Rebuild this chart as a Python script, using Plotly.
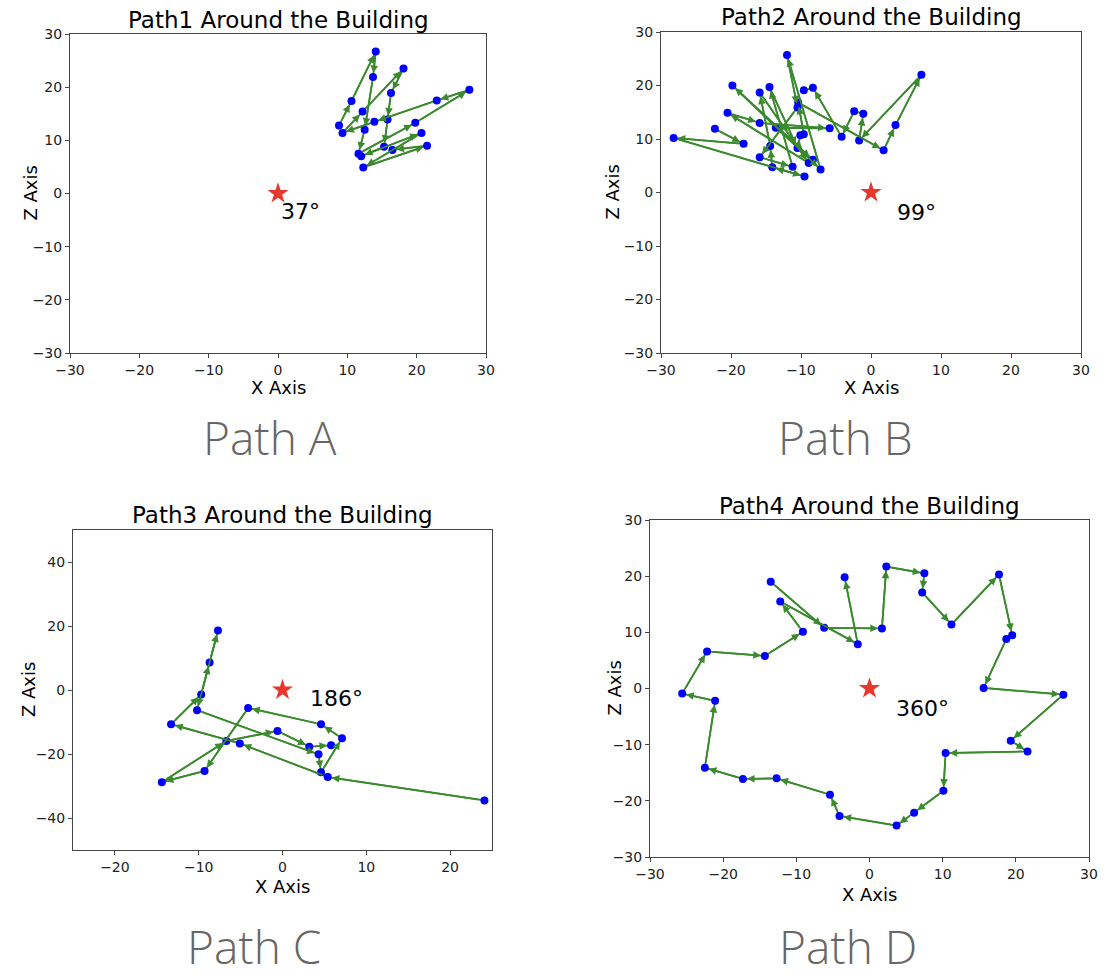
import plotly.graph_objects as go

# ---- walking paths around the building (x, z in metres) ----
path1_x = [8.8, 10.6, 14.1, 13.7, 12.5, 11.6, 19.8, 27.6, 22.9, 13.9, 9.3,
           12.2, 18.1, 16.3, 15.8, 15.3, 12.0, 20.7, 12.3, 21.5, 16.5]
path1_z = [12.8, 17.4, 26.7, 21.9, 12.0, 7.5, 13.3, 19.5, 17.5, 13.5, 11.4,
           15.4, 23.5, 18.9, 13.9, 8.8, 7.0, 11.4, 4.9, 9.0, 8.2]

path2_x = [-22.3, -18.2, -28.2, -9.5, -14.1, -14.4, -15.9, -8.9, -20.5, -15.9,
           -5.9, -13.6, -8.3, -19.8, -7.2, -12.0, -10.5, -15.9, -11.2, -14.5,
           -10.5, -10.1, -9.6, -10.4, 1.8, 3.5, 7.2, -1.7, -1.1, -2.4, -4.2,
           -8.3, -9.6]
path2_z = [11.9, 9.1, 10.2, 3.0, 4.7, 8.7, 18.7, 5.5, 14.9, 13.0,
           12.0, 12.1, 6.1, 20.0, 4.3, 25.7, 15.9, 6.6, 4.8, 19.7,
           8.3, 10.7, 10.9, 16.8, 7.9, 12.6, 22.0, 9.7, 14.7, 15.2, 10.4,
           19.6, 19.1]

path3_x = [24.1, 5.4, -5.1, -13.3, -9.7, -8.7, -7.7, -10.2, 4.3, 4.6, 7.1,
           4.6, -4.1, -9.3, -14.4, -6.7, -0.6, 3.2, 5.8]
path3_z = [-34.5, -27.2, -16.7, -10.7, -1.4, 8.6, 18.6, -6.3, -20.1, -25.7,
           -15.1, -10.7, -5.6, -25.3, -28.8, -15.9, -12.8, -17.7, -17.3]

path4_x = [-13.5, -6.2, 1.7, 2.3, 7.5, 7.2, 11.2, 17.7, 19.5, 18.7, 15.6, 26.5,
           19.3, 21.6, 10.4, 10.1, 6.1, 3.7, -4.1, -5.4, -12.7, -17.3, -22.5,
           -21.1, -25.6, -22.2, -14.3, -9.1, -12.2, -1.6, -3.4]
path4_z = [19.0, 10.8, 10.7, 21.7, 20.5, 17.1, 11.4, 20.3, 9.5, 8.8, 0.1, -1.1,
           -9.3, -11.2, -11.5, -18.2, -22.1, -24.4, -22.7, -18.9, -16.0, -16.1,
           -14.1, -2.2, -0.9, 6.6, 5.8, 10.1, 15.5, 7.9, 19.8]

building_x = [0]
building_z = [0]

panel_titles = ["Path1 Around the Building", "Path2 Around the Building",
                "Path3 Around the Building", "Path4 Around the Building"]
angle_labels = ["37°", "99°", "186°", "360°"]
angle_pos_x = [0.1, 3.4, 3.0, 3.3]
angle_pos_z = [-3.4, -3.8, -2.8, -3.6]
path_names = ["Path A", "Path B", "Path C", "Path D"]

paths = [(path1_x, path1_z), (path2_x, path2_z), (path3_x, path3_z), (path4_x, path4_z)]

GREEN = "#3b8a2e"
BLUE = "#0000ff"
RED = "#e8372c"
FONT = "DejaVu Sans"
W, H = 1109, 976

# plot-area boxes in pixels: (left, top, right, bottom)
boxes = [(70, 34, 486, 353), (661, 32, 1081, 353),
         (73, 530, 492, 850), (650, 520, 1089, 857)]
x_ranges = [[-30, 30], [-30, 30], [-25, 25], [-30, 30]]
z_ranges = [[-30, 30], [-30, 30], [-50, 50], [-30, 30]]
x_ticks = [[-30, -20, -10, 0, 10, 20, 30], [-30, -20, -10, 0, 10, 20, 30],
           [-20, -10, 0, 10, 20], [-30, -20, -10, 0, 10, 20, 30]]
z_ticks = [[-30, -20, -10, 0, 10, 20, 30], [-30, -20, -10, 0, 10, 20, 30],
           [-40, -20, 0, 20, 40], [-30, -20, -10, 0, 10, 20, 30]]

# label placement in pixels
title_y = [20, 17, 515, 506]
xlabel_y = [387, 388, 886, 894]
zlabel_x = [30, 612, 28, 614]
name_pos = [(270, 437), (845, 437), (254, 946), (848, 946)]

fig = go.Figure()
annotations = []

for i, ((px, pz), box) in enumerate(zip(paths, boxes)):
    n = "" if i == 0 else str(i + 1)
    xa, ya = "x" + n, "y" + n
    l, t, r, b = box

    fig.add_trace(go.Scatter(x=px, y=pz, mode="lines", xaxis=xa, yaxis=ya,
                             line=dict(color=GREEN, width=1.8), hoverinfo="skip",
                             showlegend=False))
    fig.add_trace(go.Scatter(x=px, y=pz, mode="markers", xaxis=xa, yaxis=ya,
                             marker=dict(color=BLUE, size=8), showlegend=False))
    fig.add_trace(go.Scatter(x=building_x, y=building_z, mode="markers",
                             xaxis=xa, yaxis=ya,
                             marker=dict(color=RED, size=16, symbol="star"),
                             showlegend=False))

    # direction arrows between consecutive positions
    for k in range(len(px) - 1):
        annotations.append(dict(
            x=px[k + 1], y=pz[k + 1], ax=px[k], ay=pz[k],
            xref=xa, yref=ya, axref=xa, ayref=ya,
            text="", showarrow=True, arrowhead=2, arrowsize=0.9,
            arrowwidth=1.7, arrowcolor=GREEN, standoff=4, startstandoff=4))

    annotations.append(dict(x=angle_pos_x[i], y=angle_pos_z[i], xref=xa, yref=ya,
                            text=angle_labels[i], showarrow=False,
                            xanchor="left", yanchor="middle",
                            font=dict(family=FONT, size=22, color="#000")))

    cx = (l + r) / 2 / W
    annotations.append(dict(x=cx, y=1 - title_y[i] / H, xref="paper", yref="paper",
                            text=panel_titles[i], showarrow=False,
                            xanchor="center", yanchor="middle",
                            font=dict(family=FONT, size=23, color="#000")))
    annotations.append(dict(x=cx, y=1 - xlabel_y[i] / H, xref="paper", yref="paper",
                            text="X Axis", showarrow=False,
                            xanchor="center", yanchor="middle",
                            font=dict(family=FONT, size=18, color="#000")))
    annotations.append(dict(x=zlabel_x[i] / W, y=1 - ((t + b) / 2) / H,
                            xref="paper", yref="paper", text="Z Axis",
                            showarrow=False, textangle=-90,
                            xanchor="center", yanchor="middle",
                            font=dict(family=FONT, size=18, color="#000")))
    nx, ny = name_pos[i]
    annotations.append(dict(x=nx / W, y=1 - ny / H, xref="paper", yref="paper",
                            text=path_names[i], showarrow=False,
                            xanchor="center", yanchor="middle",
                            font=dict(family="Open Sans", size=46, color="#666666",
                                      weight=300)))

    axis_common = dict(showgrid=False, zeroline=False, showline=True, mirror=True,
                       linecolor="#444", linewidth=1, ticks="outside", ticklen=4,
                       tickcolor="#444", automargin=False,
                       tickfont=dict(family=FONT, size=14, color="#222"))
    fig.update_layout(**{
        ("xaxis" + n): dict(domain=[l / W, r / W], range=x_ranges[i],
                            tickvals=x_ticks[i], anchor=ya, **axis_common),
        ("yaxis" + n): dict(domain=[1 - b / H, 1 - t / H], range=z_ranges[i],
                            tickvals=z_ticks[i], anchor=xa, **axis_common),
    })

fig.update_layout(width=W, height=H,
                  margin=dict(l=0, r=0, t=0, b=0, autoexpand=False),
                  paper_bgcolor="white", plot_bgcolor="white",
                  annotations=annotations, showlegend=False)

fig.write_html("out.html")
